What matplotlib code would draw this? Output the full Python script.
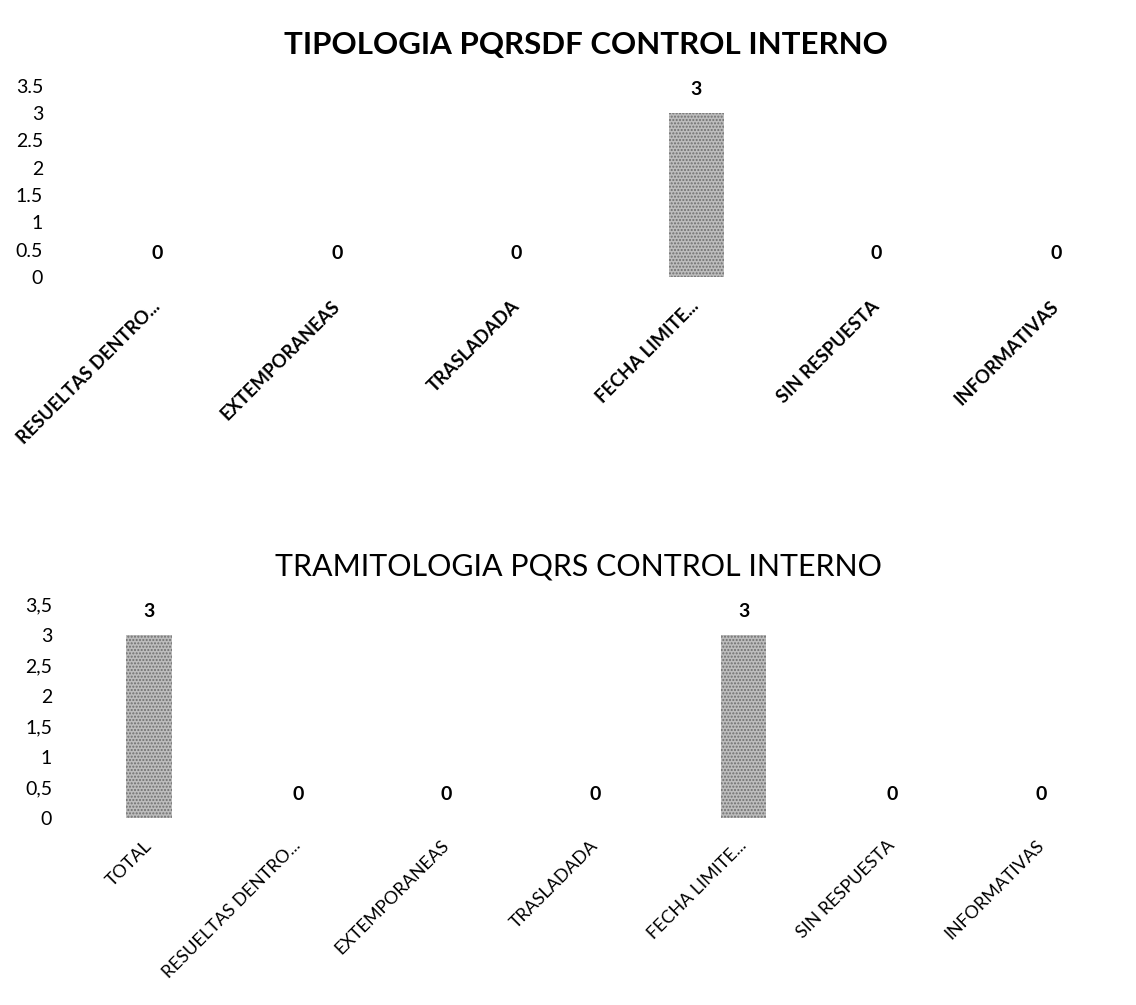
import matplotlib
matplotlib.use("Agg")
import matplotlib.pyplot as plt
from matplotlib.transforms import ScaledTranslation

plt.rcParams['font.family'] = ['Lato', 'DejaVu Sans']

top_title = "TIPOLOGIA PQRSDF CONTROL INTERNO"
top_categories = ["RESUELTAS DENTRO...", "EXTEMPORANEAS", "TRASLADADA",
                  "FECHA LIMITE...", "SIN RESPUESTA", "INFORMATIVAS"]
top_values = [0, 0, 0, 3, 0, 0]
top_yticks = [0, 0.5, 1, 1.5, 2, 2.5, 3, 3.5]
top_yticklabels = ["0", "0.5", "1", "1.5", "2", "2.5", "3", "3.5"]

bot_title = "TRAMITOLOGIA PQRS CONTROL INTERNO"
bot_categories = ["TOTAL", "RESUELTAS DENTRO...", "EXTEMPORANEAS", "TRASLADADA",
                  "FECHA LIMITE...", "SIN RESPUESTA", "INFORMATIVAS"]
bot_values = [3, 0, 0, 0, 3, 0, 0]
bot_yticks = [0, 0.5, 1, 1.5, 2, 2.5, 3, 3.5]
bot_yticklabels = ["0", "0,5", "1", "1,5", "2", "2,5", "3", "3,5"]

W, H = 1136, 1005
fig = plt.figure(figsize=(W / 100, H / 100), dpi=100)
fig.patch.set_facecolor('white')

BAR_COLOR = '#bdbdbd'
HATCH_COLOR = '#6e6e6e'


def frac_rect(left_px, right_px, top_px, bottom_px):
    return [left_px / W, 1 - bottom_px / H, (right_px - left_px) / W, (bottom_px - top_px) / H]


def make_panel(left_px, top_px, base_px, px_per_unit, x0_px, step_px, cats, vals, yt, ytl,
               bold_x, xfs, title, title_bold, title_x, title_y, title_fs, xlab_pad, xlab_dx):
    right_px = 1132
    ax = fig.add_axes(frac_rect(left_px, right_px, top_px, base_px))
    x = list(range(len(cats)))
    ax.bar(x, vals, width=0.305, color=BAR_COLOR, edgecolor=HATCH_COLOR,
           linewidth=0, hatch='.....')
    for xi, v in zip(x, vals):
        ax.annotate(f"{v}", (xi, v), xytext=(0, 17), textcoords='offset points',
                    ha='center', va='center', fontsize=14, fontweight='bold')
    ax.set_xlim((left_px - x0_px) / step_px, (right_px - x0_px) / step_px)
    ax.set_ylim(0, (base_px - top_px) / px_per_unit)
    ax.set_yticks(yt)
    ax.set_yticklabels(ytl, fontsize=14)
    ax.set_xticks(x)
    ax.set_xticklabels(cats, rotation=45, ha='right', va='center',
                       rotation_mode='anchor', fontsize=xfs,
                       fontweight='bold' if bold_x else 'normal')
    shift = ScaledTranslation(xlab_dx / 100, 0, fig.dpi_scale_trans)
    for lbl in ax.get_xticklabels():
        lbl.set_transform(lbl.get_transform() + shift)
    ax.tick_params(axis='both', length=0)
    ax.tick_params(axis='y', pad=5)
    ax.tick_params(axis='x', pad=xlab_pad)
    for s in ax.spines.values():
        s.set_visible(False)
    fig.text(title_x / W, 1 - title_y / H, title, ha='center', va='center', fontsize=title_fs,
             fontweight='bold' if title_bold else 'normal')
    return ax


# top panel
make_panel(50, 80, 277, 54.6, 157, 179.8, top_categories, top_values, top_yticks, top_yticklabels,
           True, 13.2, top_title, True, 586, 45, 22.5, 19, -9)

# bottom panel
make_panel(59, 598, 818, 61.0, 149, 148.7, bot_categories, bot_values, bot_yticks, bot_yticklabels,
           False, 12.9, bot_title, False, 578, 566, 21.9, 18, -6)

fig.savefig('out.png', dpi=100)
